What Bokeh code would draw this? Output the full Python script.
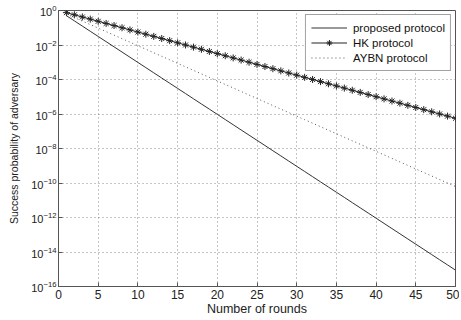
from bokeh.plotting import figure
from bokeh.models import Range1d, FixedTicker, LogTickFormatter
from bokeh.embed import file_html
from bokeh.resources import INLINE

rounds = [1, 2, 3, 4, 5, 6, 7, 8, 9, 10, 11, 12, 13, 14, 15, 16, 17, 18, 19, 20,
          21, 22, 23, 24, 25, 26, 27, 28, 29, 30, 31, 32, 33, 34, 35, 36, 37, 38, 39, 40,
          41, 42, 43, 44, 45, 46, 47, 48, 49, 50]

proposed = [5.0e-1, 2.5e-1, 1.25e-1, 6.25e-2, 3.125e-2, 1.5625e-2, 7.81e-3, 3.91e-3, 1.95e-3, 9.77e-4,
            4.88e-4, 2.44e-4, 1.22e-4, 6.10e-5, 3.05e-5, 1.53e-5, 7.63e-6, 3.81e-6, 1.91e-6, 9.54e-7,
            4.77e-7, 2.38e-7, 1.19e-7, 5.96e-8, 2.98e-8, 1.49e-8, 7.45e-9, 3.73e-9, 1.86e-9, 9.31e-10,
            4.66e-10, 2.33e-10, 1.16e-10, 5.82e-11, 2.91e-11, 1.46e-11, 7.28e-12, 3.64e-12, 1.82e-12, 9.09e-13,
            4.55e-13, 2.27e-13, 1.14e-13, 5.68e-14, 2.84e-14, 1.42e-14, 7.11e-15, 3.55e-15, 1.78e-15, 8.88e-16]

hk = [7.5e-1, 5.625e-1, 4.219e-1, 3.164e-1, 2.373e-1, 1.780e-1, 1.335e-1, 1.001e-1, 7.508e-2, 5.631e-2,
      4.224e-2, 3.168e-2, 2.376e-2, 1.782e-2, 1.336e-2, 1.002e-2, 7.517e-3, 5.638e-3, 4.228e-3, 3.171e-3,
      2.378e-3, 1.784e-3, 1.338e-3, 1.003e-3, 7.525e-4, 5.644e-4, 4.233e-4, 3.175e-4, 2.381e-4, 1.786e-4,
      1.339e-4, 1.004e-4, 7.533e-5, 5.650e-5, 4.237e-5, 3.178e-5, 2.383e-5, 1.788e-5, 1.341e-5, 1.006e-5,
      7.543e-6, 5.657e-6, 4.243e-6, 3.182e-6, 2.387e-6, 1.790e-6, 1.342e-6, 1.007e-6, 7.551e-7, 5.664e-7]

aybn = [6.25e-1, 3.906e-1, 2.441e-1, 1.526e-1, 9.537e-2, 5.960e-2, 3.725e-2, 2.328e-2, 1.455e-2, 9.095e-3,
        5.684e-3, 3.553e-3, 2.220e-3, 1.388e-3, 8.674e-4, 5.421e-4, 3.388e-4, 2.118e-4, 1.323e-4, 8.272e-5,
        5.170e-5, 3.231e-5, 2.019e-5, 1.262e-5, 7.889e-6, 4.930e-6, 3.081e-6, 1.926e-6, 1.204e-6, 7.523e-7,
        4.702e-7, 2.939e-7, 1.837e-7, 1.148e-7, 7.175e-8, 4.484e-8, 2.803e-8, 1.752e-8, 1.095e-8, 6.842e-9,
        4.276e-9, 2.673e-9, 1.670e-9, 1.044e-9, 6.525e-10, 4.078e-10, 2.549e-10, 1.593e-10, 9.956e-11, 6.223e-11]

x_ticks = [0, 5, 10, 15, 20, 25, 30, 35, 40, 45, 50]
y_ticks = [1e0, 1e-2, 1e-4, 1e-6, 1e-8, 1e-10, 1e-12, 1e-14, 1e-16]

FONT = "Liberation Sans"
INK = "#333333"

p = figure(width=459, height=318, y_axis_type="log",
           x_range=Range1d(0, 50), y_range=Range1d(1e-16, 1),
           output_backend="svg", toolbar_location=None,
           min_border_left=58, min_border_right=4, min_border_top=10, min_border_bottom=28)

p.outline_line_color = "#555555"
p.outline_line_width = 1

for ax in (p.xaxis[0], p.yaxis[0]):
    ax.axis_line_color = "#555555"
    ax.major_tick_line_color = "#555555"
    ax.major_tick_in = 4
    ax.major_tick_out = 0
    ax.minor_tick_line_color = None
    ax.major_label_text_font = FONT
    ax.major_label_text_color = "#222222"
    ax.axis_label_text_font = FONT
    ax.axis_label_text_font_style = "normal"
    ax.axis_label_text_color = "#222222"

p.xaxis.major_label_text_font_size = "12px"
p.yaxis.major_label_text_font_size = "11px"
p.xaxis.axis_label_text_font_size = "12.5px"
p.yaxis.axis_label_text_font_size = "10.5px"

p.xaxis.ticker = FixedTicker(ticks=x_ticks)
p.yaxis.ticker = FixedTicker(ticks=y_ticks)
p.yaxis.formatter = LogTickFormatter()
p.xaxis.major_label_standoff = 3
p.xaxis.axis_label_standoff = 0
p.yaxis.major_label_standoff = 2
p.yaxis.axis_label_standoff = 8
p.xaxis.axis_label = "Number of rounds"
p.yaxis.axis_label = "Success probability of adversary"

p.xgrid.ticker = FixedTicker(ticks=x_ticks)
p.ygrid.ticker = FixedTicker(ticks=y_ticks)
for g in (p.xgrid[0], p.ygrid[0]):
    g.grid_line_color = "#8a8a8a"
    g.grid_line_dash = "1 3"
    g.grid_line_width = 1

p.line(rounds, proposed, line_color=INK, line_width=1, legend_label="proposed protocol")
p.line(rounds, hk, line_color="#222222", line_width=1, legend_label="HK protocol")
p.scatter(rounds, hk, marker="asterisk", size=7, line_color="#222222", line_width=1,
          legend_label="HK protocol")
p.line(rounds, aybn, line_color="#555555", line_width=1, line_dash="1 3",
       legend_label="AYBN protocol")

lg = p.legend[0]
lg.location = "top_right"
lg.margin = 4
lg.padding = 5
lg.spacing = 0
lg.glyph_width = 36
lg.glyph_height = 15
lg.label_height = 15
lg.label_standoff = 6
lg.label_text_font = FONT
lg.label_text_font_size = "11.5px"
lg.label_text_color = "#111111"
lg.border_line_color = "#444444"
lg.border_line_width = 1
lg.background_fill_alpha = 1

open("out.html", "w").write(file_html(p, INLINE))
